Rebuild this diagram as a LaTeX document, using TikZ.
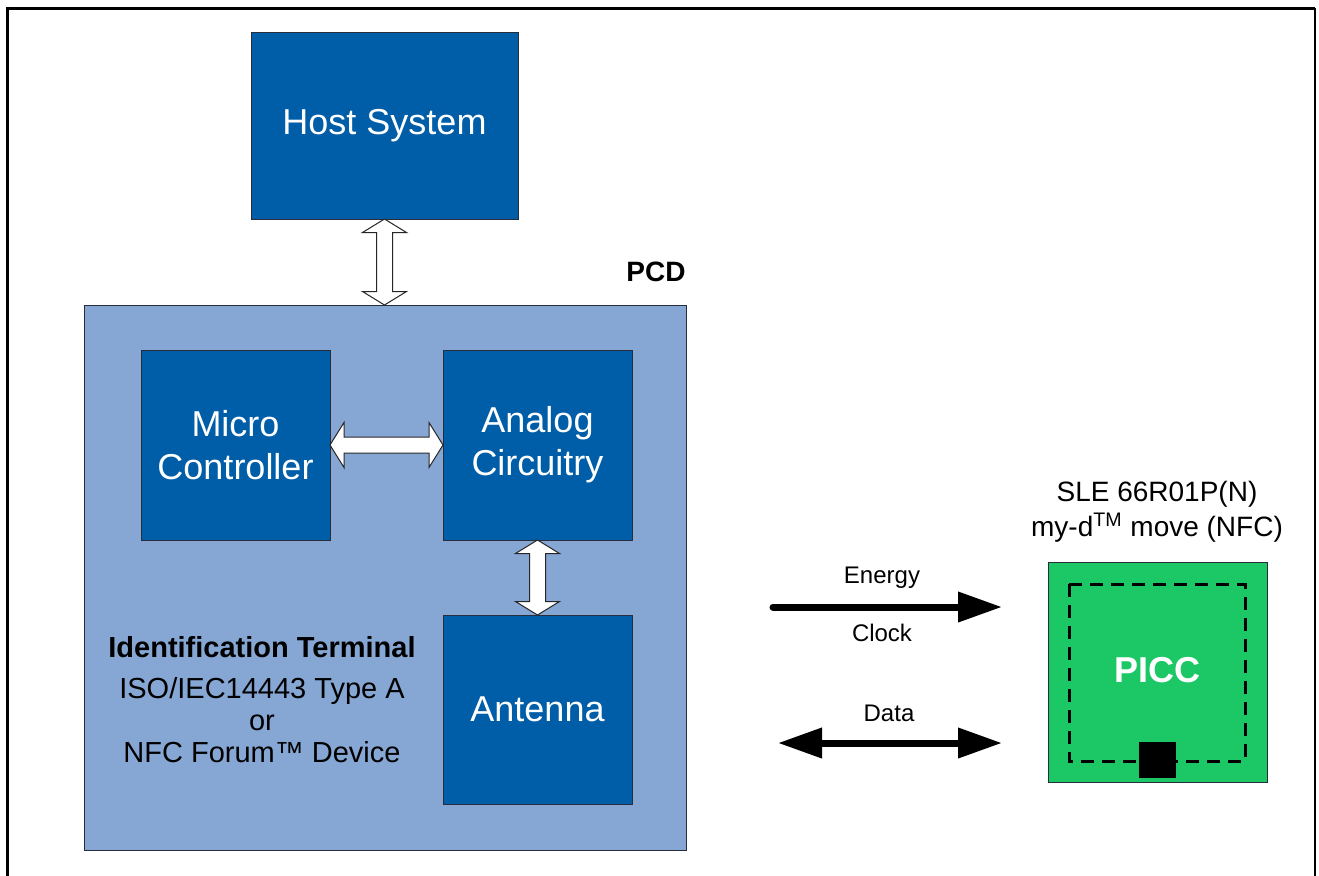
\documentclass[tikz,border=0pt]{standalone}
\usepackage{fontspec}
\setmainfont{Liberation Sans}
\usetikzlibrary{arrows.meta,calc}
\definecolor{hostblue}{RGB}{0,93,168}
\definecolor{pcdblue}{RGB}{134,166,212}
\definecolor{piccgreen}{RGB}{28,199,102}
\definecolor{edgegray}{RGB}{40,45,60}
\newcommand{\vhollow}[2]{%
  \draw[hollow] let \p1=(#1), \p2=(#2) in
    (\p1) -- (\x1+11pt,\y1-6.75pt) -- (\x1+4pt,\y1-6.75pt) -- (\x1+4pt,\y2+6.75pt)
    -- (\x1+11pt,\y2+6.75pt) -- (\x1,\y2) -- (\x1-11pt,\y2+6.75pt) -- (\x1-4pt,\y2+6.75pt)
    -- (\x1-4pt,\y1-6.75pt) -- (\x1-11pt,\y1-6.75pt) -- cycle;}
\newcommand{\hhollow}[2]{%
  \draw[hollow] let \p1=(#1), \p2=(#2) in
    (\p1) -- (\x1+7pt,\y1+11.25pt) -- (\x1+7pt,\y1+4pt) -- (\x2-7pt,\y1+4pt)
    -- (\x2-7pt,\y1+11.25pt) -- (\x2,\y1) -- (\x2-7pt,\y1-11.25pt) -- (\x2-7pt,\y1-4pt)
    -- (\x1+7pt,\y1-4pt) -- (\x1+7pt,\y1-11.25pt) -- cycle;}
\begin{document}
\begin{tikzpicture}[x=0.5pt,y=-0.5pt,
  bluebox/.style={draw=edgegray,line width=0.5pt,fill=hostblue,inner sep=0pt,outer sep=0pt,
    text=white,align=center,font=\fontsize{18}{21.5}\selectfont},
  hollow/.style={draw=black!85,line width=0.5pt,fill=white},
  lbl/.style={inner sep=0pt,align=center},
  fat/.style={line width=3.5pt},
  tip/.style={Triangle[length=22pt,width=14.5pt]}]
\useasboundingbox (0,0) rectangle (1319,875);
\fill[white] (0,0) rectangle (1319,875);
% frame
\draw[line width=1.5pt] (7,880) -- (7,8) -- (1315,8);
\draw[line width=1pt] (1315,8) -- (1315,880);
% boxes
\node[bluebox,minimum width=133.5pt,minimum height=93.5pt] (host) at (384.5,125.5) {Host System};
\node[draw=edgegray,line width=0.5pt,fill=pcdblue,inner sep=0pt,outer sep=0pt,
  minimum width=301pt,minimum height=272.5pt] (pcd) at (385,577.5) {};
\node[lbl,anchor=east,font=\fontsize{14}{16}\selectfont\bfseries] (pcdlbl) at (686,272) {PCD};
\node[bluebox,minimum width=94.5pt,minimum height=95pt] (mc) at (235.5,445) {Micro\\Controller};
\node[bluebox,minimum width=94.5pt,minimum height=95pt] (ac) at (537.5,445) {Analog\\Circuitry};
\node[bluebox,minimum width=94.5pt,minimum height=94.5pt] (ant) at (537.5,709.5) {Antenna};
\node[lbl,font=\fontsize{14.5}{16}\selectfont\bfseries] (idt) at (262,647) {Identification Terminal};
\node[lbl,font=\fontsize{14.5}{16}\selectfont] (iso) at (262,720) {ISO/IEC14443 Type A\\or\\NFC Forum™ Device};
% hollow arrows
\vhollow{host.south}{pcd.north -| host.south}
\hhollow{mc.east}{ac.west}
\vhollow{ac.south}{ant.north}
% PICC
\node[draw=edgegray,line width=0.5pt,fill=piccgreen,inner sep=0pt,outer sep=0pt,
  minimum width=109.5pt,minimum height=110pt] (picc) at (1157.5,672) {};
\draw[line width=1.5pt,dash pattern=on 6.5pt off 4pt] (1069,584) rectangle (1245,761);
\node[fill=black,inner sep=0pt,minimum width=18.5pt,minimum height=18pt] (chip) at (1157.5,760) {};
\node[lbl,text=white,font=\fontsize{18}{21}\selectfont\bfseries] (picclbl) at (1157,670) {PICC};
\node[lbl,font=\fontsize{14}{17.5}\selectfont] (sle) at (1157,512) {SLE 66R01P(N)\\my-d\textsuperscript{TM} move (NFC)};
% energy / data arrows
\coordinate (e1) at (773,607);
\coordinate (e2) at (1002,607);
\coordinate (d1) at (778,743);
\coordinate (d2) at (1002,743);
\draw[fat,line cap=round,-{Triangle[length=22pt,width=14.5pt]}] (e1) -- (e2);
\draw[fat,{Triangle[length=22pt,width=14.5pt]}-{Triangle[length=22pt,width=14.5pt]}] (d1) -- (d2);
\node[lbl,font=\fontsize{12}{14}\selectfont] (energy) at (882,578) {Energy};
\node[lbl,font=\fontsize{12}{14}\selectfont] (clock) at (882,633) {Clock};
\node[lbl,font=\fontsize{12}{14}\selectfont] (data) at (889,713) {Data};
\end{tikzpicture}
\end{document}
